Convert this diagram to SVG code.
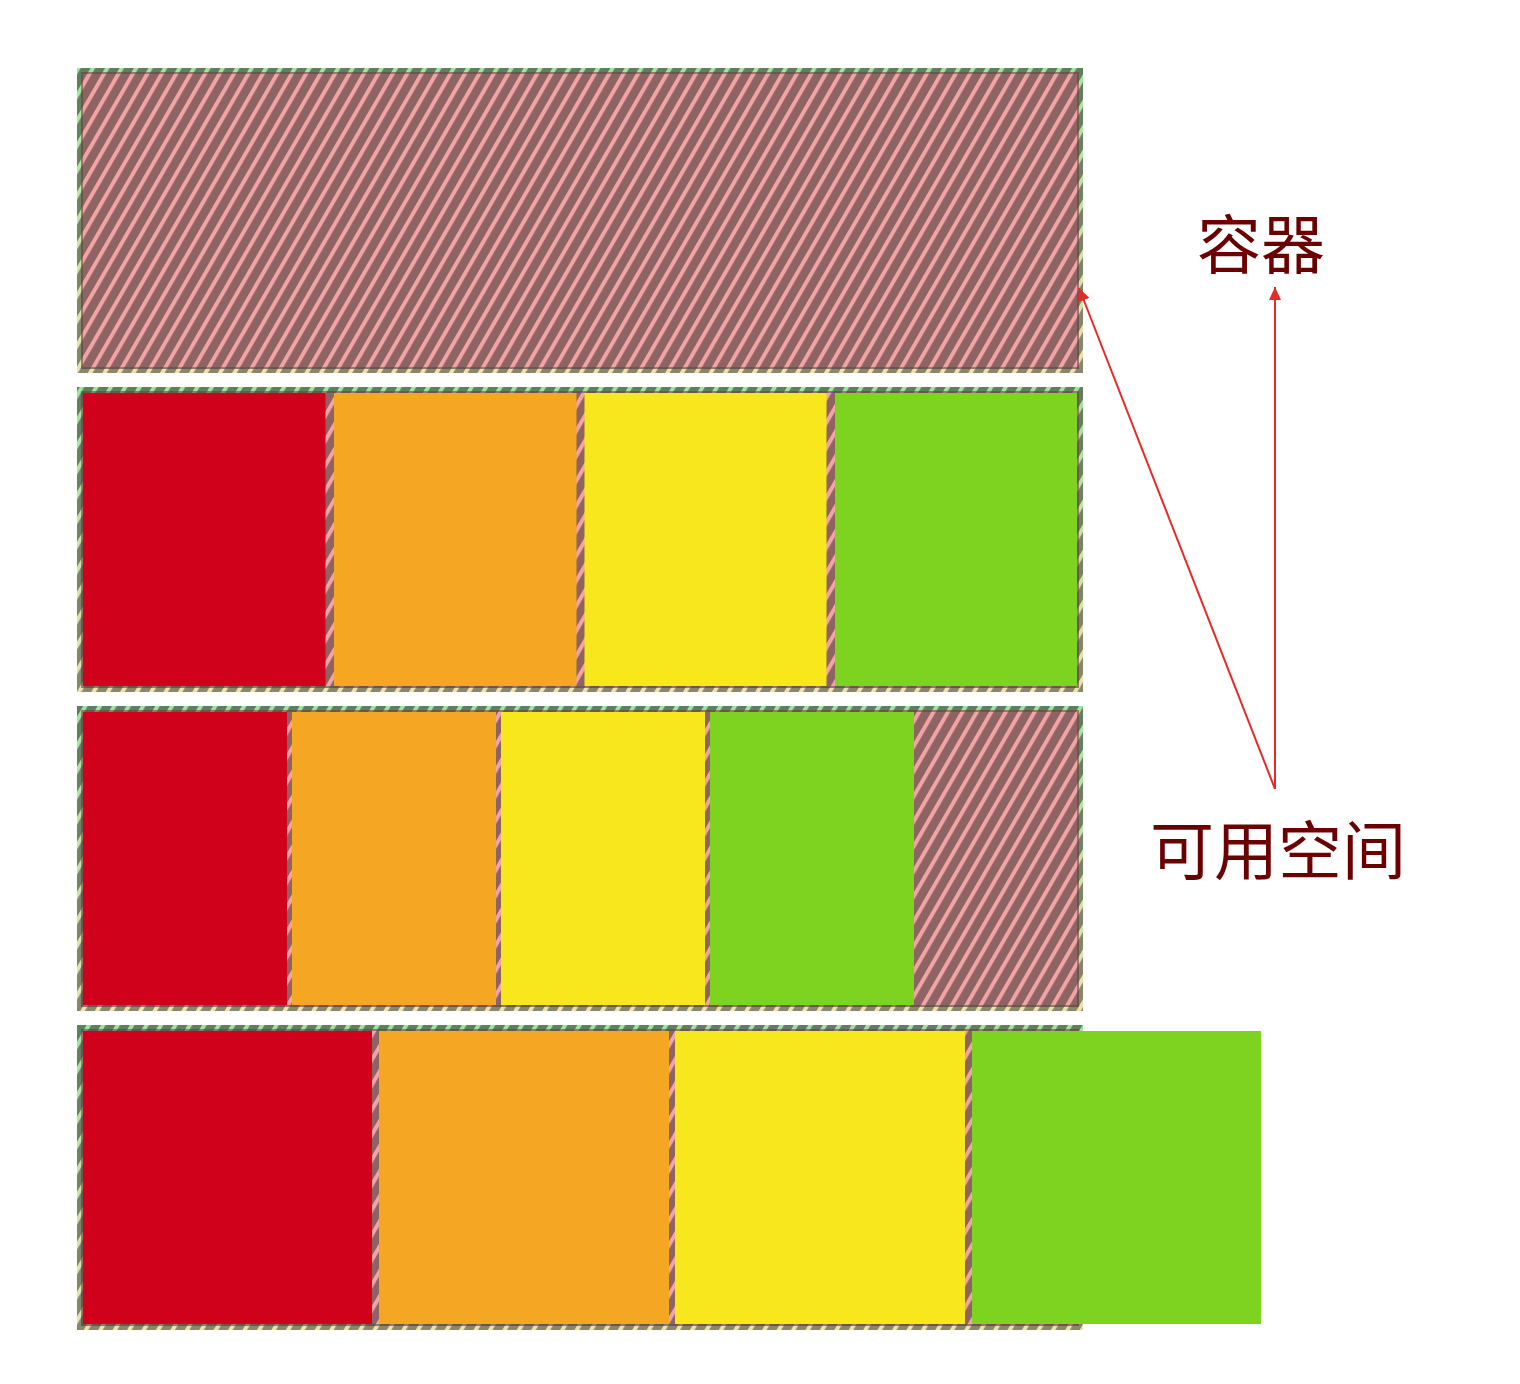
<svg xmlns="http://www.w3.org/2000/svg" width="1520" height="1384" viewBox="0 0 1520 1384">
  <defs>
    <pattern id="hatch" patternUnits="userSpaceOnUse" width="12.5" height="12.5" patternTransform="rotate(30)">
      <rect width="12.5" height="12.5" fill="#8e6363"/>
      <rect width="4" height="12.5" fill="#f2a3a3"/>
    </pattern>
    <pattern id="hatchGreen" patternUnits="userSpaceOnUse" width="12.5" height="12.5" patternTransform="rotate(30)">
      <rect width="12.5" height="12.5" fill="#5f7f5f"/>
      <rect width="4" height="12.5" fill="#9de69d"/>
    </pattern>
    <pattern id="hatchKhaki" patternUnits="userSpaceOnUse" width="12.5" height="12.5" patternTransform="rotate(30)">
      <rect width="12.5" height="12.5" fill="#8a886a"/>
      <rect width="4" height="12.5" fill="#ebe3ab"/>
    </pattern>
    <linearGradient id="fade" x1="0" y1="0" x2="0" y2="1">
      <stop offset="0" stop-color="#fff" stop-opacity="0"/>
      <stop offset="1" stop-color="#fff" stop-opacity="1"/>
    </linearGradient>
    <mask id="fadeMask" maskUnits="objectBoundingBox" maskContentUnits="objectBoundingBox" x="0" y="0" width="1" height="1">
      <rect x="0" y="0" width="1" height="1" fill="url(#fade)"/>
    </mask>
    <marker id="arrow" markerUnits="userSpaceOnUse" markerWidth="14" markerHeight="12" refX="13" refY="6" orient="auto">
      <path d="M0,0 L13,6 L0,12 Z" fill="#e52a2a"/>
    </marker>
    <style>
      .bg { fill: url(#hatch); }
      .bandG { fill: url(#hatchGreen); fill-rule: evenodd; }
      .bandK { fill: url(#hatchKhaki); fill-rule: evenodd; mask: url(#fadeMask); }
      .ring { fill: rgba(70,72,60,0.5); fill-rule: evenodd; }
      .red { fill: #d0021b; }
      .orange { fill: #f5a623; }
      .yellow { fill: #f8e71c; }
      .green { fill: #7ed321; }
      .label { font-family: "Noto Sans CJK SC", "Noto Sans CJK TC", sans-serif; font-size: 64px; fill: #6b0000; text-anchor: middle; }
      .conn { stroke: #e52a2a; stroke-width: 2; fill: none; }
    </style>
  </defs>

  <g id="container1">
    <rect class="bg" x="77" y="68" width="1006" height="305"/>
    <path class="bandG" d="M77,68 H1083 V373 H77 Z M81,72 V369 H1079 V72 Z"/>
    <path class="bandK" d="M77,68 H1083 V373 H77 Z M81,72 V369 H1079 V72 Z"/>
    <path class="ring" d="M81,72 H1079 V369 H81 Z M83,74 V367 H1077 V74 Z"/>
  </g>

  <g id="container2">
    <rect class="bg" x="77" y="387" width="1006" height="305"/>
    <path class="bandG" d="M77,387 H1083 V692 H77 Z M81,391 V688 H1079 V391 Z"/>
    <path class="bandK" d="M77,387 H1083 V692 H77 Z M81,391 V688 H1079 V391 Z"/>
    <path class="ring" d="M81,391 H1079 V688 H81 Z M83,393 V686 H1077 V393 Z"/>
    <rect class="red" x="83" y="393" width="242.5" height="293"/>
    <rect class="orange" x="334" y="393" width="242.5" height="293"/>
    <rect class="yellow" x="584.5" y="393" width="242" height="293"/>
    <rect class="green" x="835" y="393" width="242" height="293"/>
  </g>

  <g id="container3">
    <rect class="bg" x="77" y="706" width="1006" height="305"/>
    <path class="bandG" d="M77,706 H1083 V1011 H77 Z M81,710 V1007 H1079 V710 Z"/>
    <path class="bandK" d="M77,706 H1083 V1011 H77 Z M81,710 V1007 H1079 V710 Z"/>
    <path class="ring" d="M81,710 H1079 V1007 H81 Z M83,712 V1005 H1077 V712 Z"/>
    <rect class="red" x="83" y="712" width="204" height="293"/>
    <rect class="orange" x="292" y="712" width="204" height="293"/>
    <rect class="yellow" x="501" y="712" width="204" height="293"/>
    <rect class="green" x="710" y="712" width="204" height="293"/>
  </g>

  <g id="container4">
    <rect class="bg" x="77" y="1025" width="1006" height="305"/>
    <path class="bandG" d="M77,1025 H1083 V1330 H77 Z M81,1029 V1326 H1079 V1029 Z"/>
    <path class="bandK" d="M77,1025 H1083 V1330 H77 Z M81,1029 V1326 H1079 V1029 Z"/>
    <path class="ring" d="M81,1029 H1079 V1326 H81 Z M83,1031 V1324 H1077 V1031 Z"/>
    <rect class="red" x="83" y="1031" width="289" height="293"/>
    <rect class="orange" x="379" y="1031" width="290" height="293"/>
    <rect class="yellow" x="675" y="1031" width="290" height="293"/>
    <rect class="green" x="972" y="1031" width="289" height="293"/>
  </g>

  <g id="label-container">
    <text class="label" x="1261" y="268">容器</text>
  </g>
  <g id="label-space">
    <text class="label" x="1278" y="874">可用空间</text>
  </g>

  <g id="connectors">
    <line class="conn" x1="1275" y1="789" x2="1079" y2="288" marker-end="url(#arrow)"/>
    <line class="conn" x1="1275" y1="789" x2="1275" y2="287" marker-end="url(#arrow)"/>
  </g>
</svg>
